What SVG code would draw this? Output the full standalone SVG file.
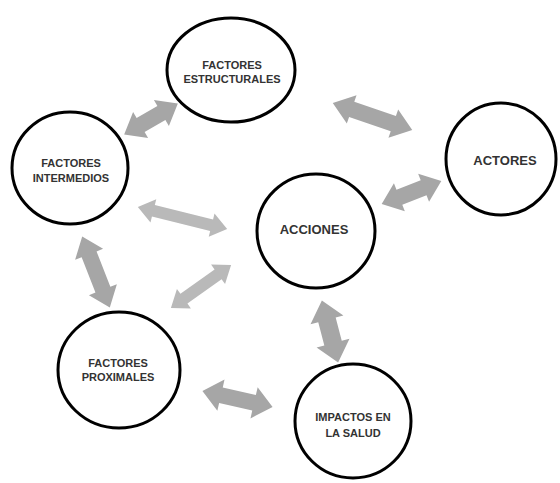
<svg xmlns="http://www.w3.org/2000/svg" width="560" height="483" viewBox="0 0 560 483">
<style>
.node ellipse{fill:#fff;stroke:#000;stroke-width:3}
.node text{font-family:"Liberation Sans",Arial,sans-serif;font-weight:bold;font-size:11px;fill:#333;text-anchor:middle}
.node text.big{font-size:13px}
.arr{fill:#a6a6a6}
.arr.light{fill:#b9b9b9}
</style>
<rect width="560" height="483" fill="#fff"/>
<g id="connectors">
<path class="arr" transform="translate(151,119) rotate(-30)" d="M-31,0 L-12,-15 L-12,-8 L12,-8 L12,-15 L31,0 L12,15 L12,8 L-12,8 L-12,15 Z"/>
<path class="arr" transform="translate(372.5,116.5) rotate(18.9)" d="M-42,0 L-22,-15 L-22,-8 L22,-8 L22,-15 L42,0 L22,15 L22,8 L-22,8 L-22,15 Z"/>
<path class="arr" transform="translate(411.5,192.5) rotate(-21.3)" d="M-32,0 L-13,-15 L-13,-8 L13,-8 L13,-15 L32,0 L13,15 L13,8 L-13,8 L-13,15 Z"/>
<path class="arr light" transform="translate(182.5,218) rotate(13.9)" d="M-46,0 L-30,-12 L-30,-6 L30,-6 L30,-12 L46,0 L30,12 L30,6 L-30,6 L-30,12 Z"/>
<path class="arr light" transform="translate(201,286.5) rotate(-35.6)" d="M-37,0 L-21,-12 L-21,-6 L21,-6 L21,-12 L37,0 L21,12 L21,6 L-21,6 L-21,12 Z"/>
<path class="arr" transform="translate(96,272) rotate(68.7)" d="M-38,0 L-19,-15 L-19,-8 L19,-8 L19,-15 L38,0 L19,15 L19,8 L-19,8 L-19,15 Z"/>
<path class="arr" transform="translate(330,331.5) rotate(75.3)" d="M-32,0 L-12,-17 L-12,-9 L12,-9 L12,-17 L32,0 L12,17 L12,9 L-12,9 L-12,17 Z"/>
<path class="arr" transform="translate(237.5,399) rotate(13)" d="M-36,0 L-17,-16 L-17,-8 L17,-8 L17,-16 L36,0 L17,16 L17,8 L-17,8 L-17,16 Z"/>
</g>
<g id="estructurales" class="node">
<ellipse cx="231" cy="70" rx="64" ry="52"/>
<text x="232" y="69">FACTORES</text>
<text x="232" y="83">ESTRUCTURALES</text>
</g>
<g id="intermedios" class="node">
<ellipse cx="70" cy="168" rx="58" ry="56"/>
<text x="71" y="167">FACTORES</text>
<text x="71" y="182">INTERMEDIOS</text>
</g>
<g id="actores" class="node">
<ellipse cx="501" cy="159" rx="55" ry="56"/>
<text class="big" x="505" y="165">ACTORES</text>
</g>
<g id="acciones" class="node">
<ellipse cx="316" cy="231" rx="59" ry="57"/>
<text class="big" x="314" y="234">ACCIONES</text>
</g>
<g id="proximales" class="node">
<ellipse cx="119" cy="370" rx="61" ry="58"/>
<text x="118" y="367">FACTORES</text>
<text x="118" y="381">PROXIMALES</text>
</g>
<g id="impactos" class="node">
<ellipse cx="353" cy="421" rx="58" ry="57"/>
<text x="353" y="421">IMPACTOS EN</text>
<text x="353" y="437">LA SALUD</text>
</g>
</svg>
